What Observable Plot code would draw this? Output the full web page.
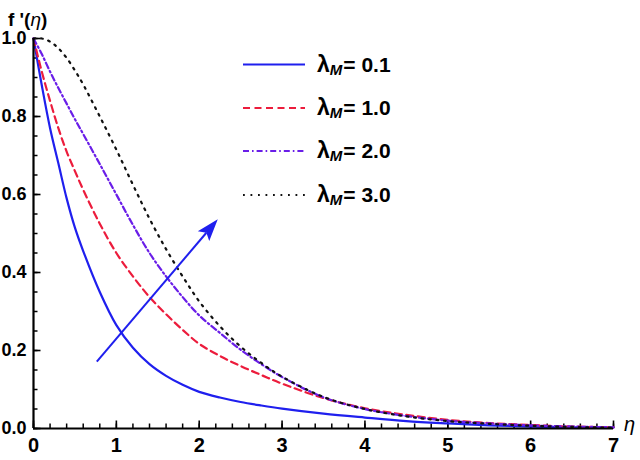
<!DOCTYPE html>
<html>
<head>
<meta charset="utf-8">
<script src="https://cdn.jsdelivr.net/npm/d3@7"></script>
<script src="https://cdn.jsdelivr.net/npm/@observablehq/plot@0.6"></script>
<style>
  body { margin: 0; background: #fff; }
  #chart { width: 640px; height: 460px; }
</style>
</head>
<body>
<div id="chart"></div>
<script>
// ---- data ----
const eta = [0, 0.1, 0.2, 0.3, 0.4, 0.5, 0.6, 0.8, 1.0, 1.2, 1.4, 1.6, 1.8, 2.0, 2.25, 2.5, 2.75, 3.0, 3.5, 4.0, 4.5, 5.0, 5.5, 6.0, 6.5, 7.0];
const fLambda01 = [1.00, 0.88, 0.77, 0.68, 0.59, 0.515, 0.455, 0.35, 0.265, 0.207, 0.165, 0.135, 0.112, 0.094, 0.0795, 0.068, 0.059, 0.051, 0.038, 0.028, 0.019, 0.013, 0.008, 0.005, 0.003, 0.002];
const fLambda10 = [1.00, 0.915, 0.84, 0.77, 0.71, 0.66, 0.612, 0.525, 0.45, 0.39, 0.337, 0.293, 0.253, 0.217, 0.186, 0.160, 0.137, 0.115, 0.078, 0.052, 0.035, 0.022, 0.014, 0.009, 0.005, 0.003];
const fLambda20 = [1.00, 0.96, 0.915, 0.873, 0.833, 0.793, 0.755, 0.678, 0.60, 0.522, 0.45, 0.39, 0.337, 0.29, 0.245, 0.202, 0.165, 0.132, 0.080, 0.050, 0.032, 0.020, 0.013, 0.008, 0.005, 0.003];
const fLambda30 = [1.00, 1.00, 0.992, 0.975, 0.95, 0.918, 0.882, 0.80, 0.715, 0.625, 0.538, 0.46, 0.39, 0.326, 0.262, 0.21, 0.168, 0.133, 0.081, 0.050, 0.031, 0.019, 0.012, 0.007, 0.004, 0.002];

const seriesValues = [fLambda01, fLambda10, fLambda20, fLambda30];
const seriesLabels = ["0.1", "1.0", "2.0", "3.0"];
const seriesColors = ["#1f1fee", "#ec1c3c", "#6a1ee8", "#111111"];
const seriesDash = [null, "7,4.5", "6,3,1.6,3", "1.8,5.7"];

const xTicks = [0, 1, 2, 3, 4, 5, 6, 7];
const yTicks = [0, 0.2, 0.4, 0.6, 0.8, 1.0];
const xMinorTicks = d3.range(0, 7.001, 0.2);
const yMinorTicks = d3.range(0, 1.001, 0.05);

// annotation arrow (data coordinates)
const arrowFrom = [0.77, 0.17];
const arrowTo = [2.23, 0.535];

// ---- layout ----
const W = 640, H = 460, mL = 33, mR = 27, mT = 38, mB = 32;
const innerW = W - mL - mR, innerH = H - mT - mB;

const rows = seriesValues.map((vals, s) => eta.map((e, i) => ({eta: e, f: vals[i], s})));

const lineMarks = rows.map((r, s) => Plot.line(r, {
  x: "eta", y: "f", stroke: seriesColors[s], strokeWidth: 2.2,
  strokeDasharray: seriesDash[s] || undefined, curve: "catmull-rom"
}));

const plot = Plot.plot({
  width: W, height: H,
  marginLeft: mL, marginRight: mR, marginTop: mT, marginBottom: mB,
  x: {domain: [0, 7]},
  y: {domain: [0, 1]},
  style: {fontFamily: "'Liberation Sans', Arial, sans-serif", fontSize: "18px", fontWeight: "bold", background: "#fff", color: "#000", overflow: "visible"},
  marks: [
    Plot.axisX({ticks: xTicks, tickSize: 0, tickPadding: 9, tickFormat: d => String(d), label: null, fontSize: 20}),
    Plot.axisY({ticks: yTicks, tickSize: 0, tickPadding: 7, tickFormat: d3.format(".1f"), label: null, fontSize: 18}),
    Plot.ruleX(xMinorTicks, {x: d => d, insetTop: innerH - 4.5, stroke: "#000", strokeWidth: 1.5}),
    Plot.ruleX(xTicks, {x: d => d, insetTop: innerH - 7.5, stroke: "#000", strokeWidth: 1.6}),
    Plot.ruleY(yMinorTicks, {y: d => d, insetRight: innerW - 4.5, stroke: "#000", strokeWidth: 1.5}),
    Plot.ruleY(yTicks, {y: d => d, insetRight: innerW - 7.5, stroke: "#000", strokeWidth: 1.6}),
    ...lineMarks,
    Plot.ruleX([0], {stroke: "#000", strokeWidth: 2.2}),
    Plot.ruleY([0], {stroke: "#000", strokeWidth: 2.2})
  ]
});

document.getElementById("chart").appendChild(plot);

// ---- annotations drawn with the plot's own scales ----
const svg = d3.select(plot);
const sx = plot.scale("x"), sy = plot.scale("y");
const S = [sx.apply(arrowFrom[0]), sy.apply(arrowFrom[1])];
const T = [sx.apply(arrowTo[0]), sy.apply(arrowTo[1])];
const len = Math.hypot(T[0] - S[0], T[1] - S[1]);
const u = [(T[0] - S[0]) / len, (T[1] - S[1]) / len];
const n = [-u[1], u[0]];
const L = 22, w = 7.5;
const B = [T[0] - u[0] * L, T[1] - u[1] * L];
const notch = [T[0] - u[0] * L * 0.8, T[1] - u[1] * L * 0.8];
const arrowColor = seriesColors[0];
svg.append("line")
  .attr("x1", S[0]).attr("y1", S[1])
  .attr("x2", notch[0]).attr("y2", notch[1])
  .attr("stroke", arrowColor).attr("stroke-width", 2);
svg.append("polygon")
  .attr("points", [T, [B[0] + n[0] * w, B[1] + n[1] * w], notch, [B[0] - n[0] * w, B[1] - n[1] * w]].map(p => p.join(",")).join(" "))
  .attr("fill", arrowColor);

// axis labels
const yLab = svg.append("text").attr("x", 8).attr("y", 26).attr("text-anchor", "start")
  .attr("font-size", 19).attr("font-weight", "bold").attr("fill", "#000");
yLab.append("tspan").text("f '(");
yLab.append("tspan").attr("font-style", "italic").attr("font-weight", "normal").text("η");
yLab.append("tspan").text(")");

svg.append("text").attr("x", 624).attr("y", 431).attr("text-anchor", "start")
  .attr("font-size", 20).attr("font-style", "italic").attr("font-weight", "normal").attr("fill", "#000")
  .text("η");

// legend
const legendY = [64.5, 108, 151, 195];
const legend = svg.append("g").attr("text-anchor", "start");
seriesLabels.forEach((lab, s) => {
  const y = legendY[s];
  legend.append("line").attr("x1", 243).attr("x2", 305).attr("y1", y).attr("y2", y)
    .attr("stroke", seriesColors[s]).attr("stroke-width", 2.2)
    .attr("stroke-dasharray", seriesDash[s]);
  const t = legend.append("text").attr("x", 317).attr("y", y + 7).attr("text-anchor", "start")
    .attr("font-weight", "bold").attr("fill", "#000");
  t.append("tspan").attr("font-size", 23).text("λ");
  t.append("tspan").attr("font-size", 15).attr("font-style", "italic").attr("dy", 3).text("M");
  t.append("tspan").attr("font-size", 21).attr("dy", -3).attr("dx", 1).text("= " + lab);
});
</script>
</body>
</html>
